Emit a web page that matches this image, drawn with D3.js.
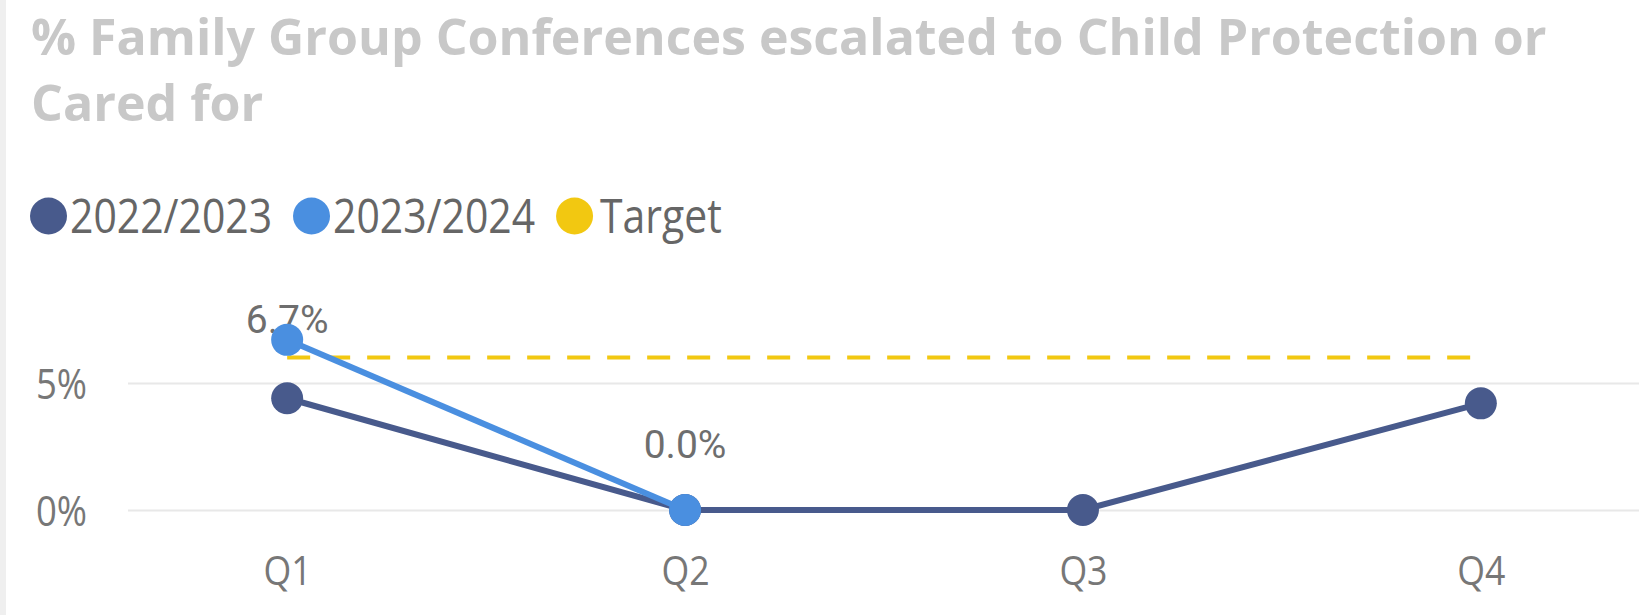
<!DOCTYPE html>
<html>
<head>
<meta charset="utf-8">
<script src="https://cdn.jsdelivr.net/npm/d3@7"></script>
<style>
  html, body { margin: 0; padding: 0; background: #fff; }
  svg { display: block; }
</style>
</head>
<body>
<div id="chart"></div>
<script>
'use strict';

// ---- data ---------------------------------------------------------
var quarters    = ['Q1', 'Q2', 'Q3', 'Q4'];
var fy2223      = [4.4, 0.0, 0.0, 4.2];
var fy2324      = [6.7, 0.0];           // only Q1, Q2 reported so far
var targetVals  = [6, 6, 6, 6];
var yTicks      = [0, 5];
var seriesNames = ['2022/2023', '2023/2024', 'Target'];
var titleLines  = ['% Family Group Conferences escalated to Child Protection or', 'Cared for'];

// ---- layout -------------------------------------------------------
var W = 1639, H = 615;
var plotLeft = 128, plotRight = 1640;
var colors = { dark: '#485a8c', light: '#4a8fe0', target: '#f2c811' };
var squeezeK = 0.87;   // reference font is narrower than Open Sans
var sans = '"Segoe UI", "Open Sans", sans-serif';

var svg = d3.select('#chart').append('svg')
    .attr('width', W)
    .attr('height', H);

// left container edge
svg.append('rect')
    .attr('x', 0).attr('y', 0)
    .attr('width', 6).attr('height', H)
    .attr('fill', '#efefef');

// ---- title --------------------------------------------------------
var title = svg.append('g');
var tl = title.selectAll('text')
    .data(titleLines)
    .enter()
    .append('text')
    .attr('x', 0)
    .attr('y', function(d, i){ return 55 + i * 66; })
    .style('font-family', sans)
    .style('font-weight', 700)
    .style('font-size', '51px')
    .style('fill', '#c8c8c8')
    .text(function(d){ return d; });

var titleK = 1516 / tl.node().getComputedTextLength();
title.attr('transform', 'translate(31,0) scale(' + titleK + ',1)');

// ---- scales -------------------------------------------------------
var x = d3.scalePoint()
    .domain(quarters)
    .range([plotLeft, plotRight])
    .padding(0.4);

var y = d3.scaleLinear()
    .domain([0, 5])
    .range([510, 383]);

// ---- y axis with gridlines ---------------------------------------
var yAxis = d3.axisLeft(y)
    .tickValues(yTicks)
    .tickSize(-(plotRight - plotLeft))
    .tickFormat(function(d){ return d + '%'; });

var yg = svg.append('g')
    .attr('class', 'yAxis')
    .attr('transform', 'translate(' + plotLeft + ',0)')
    .call(yAxis);

yg.select('.domain').remove();
yg.selectAll('line')
    .attr('stroke', '#e8e8e8')
    .attr('stroke-width', 2);
yg.selectAll('text')
    .attr('x', -41 / squeezeK)
    .attr('dy', '0.36em')
    .attr('transform', 'scale(' + squeezeK + ',1)')
    .style('font-family', sans)
    .style('font-size', '42px')
    .style('fill', '#777');

// ---- x axis -------------------------------------------------------
var xAxis = d3.axisBottom(x).tickSize(0);

var xg = svg.append('g')
    .attr('class', 'xAxis')
    .attr('transform', 'translate(0,' + y(0) + ')')
    .call(xAxis);

xg.select('.domain').remove();
xg.selectAll('text')
    .attr('y', 75)
    .attr('dy', 0)
    .attr('transform', 'scale(' + squeezeK + ',1)')
    .style('font-family', sans)
    .style('font-size', '41px')
    .style('fill', '#777');

// ---- data labels (drawn under the marks, as in the original) ------
var labelTop = 333;
svg.append('g').selectAll('text')
    .data(fy2324)
    .enter()
    .append('text')
    .attr('x', function(d, i){ return x(quarters[i]); })
    .attr('y', function(d){ return Math.max(y(d) - 52, labelTop); })
    .attr('text-anchor', 'middle')
    .style('font-family', 'Roboto, sans-serif')
    .style('font-weight', 400)
    .style('font-size', '39px')
    .style('fill', '#6e6e6e')
    .text(function(d){ return d.toFixed(1) + '%'; });

// ---- target line --------------------------------------------------
var line = d3.line()
    .x(function(d, i){ return x(quarters[i]); })
    .y(function(d){ return y(d); });

svg.append('path')
    .datum(targetVals)
    .attr('d', line)
    .attr('fill', 'none')
    .attr('stroke', colors.target)
    .attr('stroke-width', 4)
    .attr('stroke-dasharray', '23,17');

// ---- series -------------------------------------------------------
function drawSeries(vals, color)
{
    var g = svg.append('g');
    g.append('path')
        .datum(vals)
        .attr('d', line)
        .attr('fill', 'none')
        .attr('stroke', color)
        .attr('stroke-width', 6)
        .attr('stroke-linejoin', 'round');

    g.selectAll('circle')
        .data(vals)
        .enter()
        .append('circle')
        .attr('cx', function(d, i){ return x(quarters[i]); })
        .attr('cy', function(d){ return y(d); })
        .attr('r', 16)
        .attr('fill', color);
}

drawSeries(fy2223, colors.dark);
drawSeries(fy2324, colors.light);

// ---- legend -------------------------------------------------------
var legendColors = [colors.dark, colors.light, colors.target];
var legend = svg.append('g').attr('class', 'legend');
var lx = 30, lr = 18.5;

seriesNames.forEach(function(name, i)
{
    legend.append('circle')
        .attr('cx', lx + lr)
        .attr('cy', 216)
        .attr('r', lr)
        .attr('fill', legendColors[i]);

    var gap = (name === 'Target') ? 7 : 3;
    var t = legend.append('text')
        .attr('x', 0)
        .attr('y', 0)
        .attr('transform', 'translate(' + (lx + 2 * lr + gap) + ',233) scale(' + squeezeK + ',1)')
        .style('font-family', sans)
        .style('font-size', '47px')
        .style('fill', '#666')
        .text(name);

    lx += 2 * lr + gap + t.node().getComputedTextLength() * squeezeK + 21;
});
</script>
</body>
</html>
